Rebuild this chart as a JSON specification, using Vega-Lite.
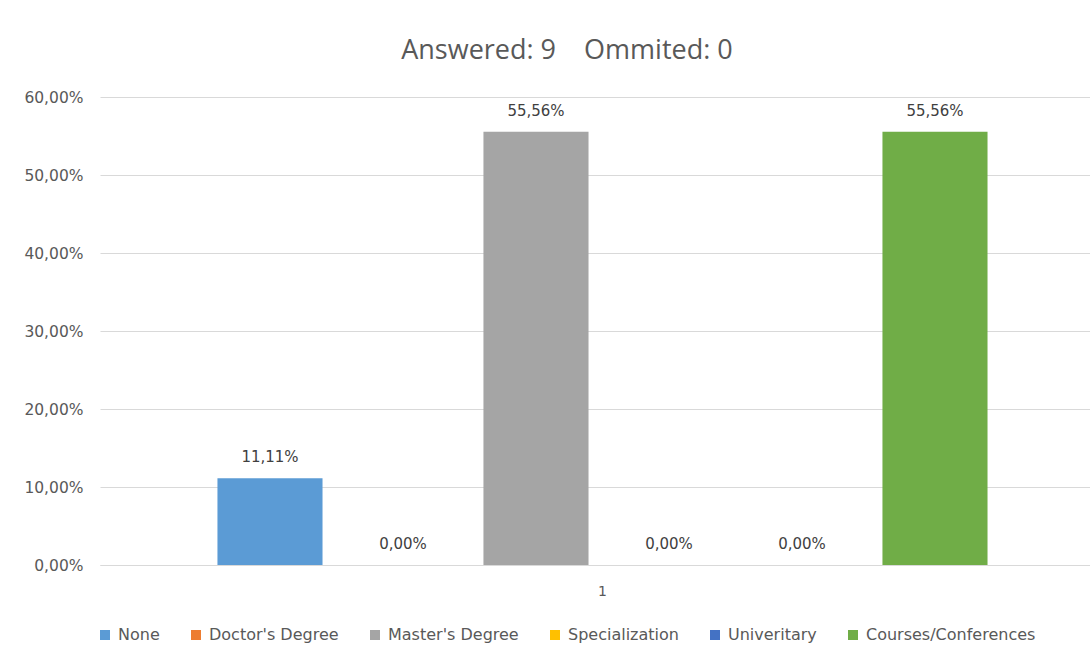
{
  "$schema": "https://vega.github.io/schema/vega-lite/v6.json",
  "autosize": {"type": "none"},
  "width": 990,
  "height": 468,
  "padding": {"left": 100, "top": 97, "right": 0, "bottom": 85},
  "background": "white",
  "config": {
    "locale": {"number": {"decimal": ",", "thousands": ".", "grouping": [3], "currency": ["", " €"]}},
    "view": {"stroke": null},
    "font": "DejaVu Sans"
  },
  "title": {
    "text": "Answered: 9\u00a0\u00a0\u00a0 Ommited: 0",
    "fontSize": 27,
    "fontWeight": "normal",
    "color": "#595959",
    "font": "Open Sans",
    "anchor": "middle",
    "dx": -28,
    "offset": 25
  },
  "data": {
    "values": [
      {"cat": "1", "series": "None", "value": 0.1111},
      {"cat": "1", "series": "Doctor's Degree", "value": 0},
      {"cat": "1", "series": "Master's Degree", "value": 0.5556},
      {"cat": "1", "series": "Specialization", "value": 0},
      {"cat": "1", "series": "Univeritary", "value": 0},
      {"cat": "1", "series": "Courses/Conferences", "value": 0.5556}
    ]
  },
  "encoding": {
    "x": {
      "field": "cat",
      "type": "nominal",
      "scale": {"paddingInner": 0, "paddingOuter": 0.1203, "align": 0.539},
      "axis": {
        "title": null,
        "labelAngle": 0,
        "ticks": false,
        "domainColor": "#d9d9d9",
        "labelColor": "#595959",
        "labelFontSize": 14,
        "labelPadding": 19
      }
    },
    "xOffset": {
      "field": "series",
      "type": "nominal",
      "sort": ["None", "Doctor's Degree", "Master's Degree", "Specialization", "Univeritary", "Courses/Conferences"],
      "scale": {"paddingInner": 0.21, "paddingOuter": 0.105}
    },
    "y": {
      "field": "value",
      "type": "quantitative",
      "scale": {"domain": [0, 0.6], "nice": false},
      "axis": {
        "title": null,
        "format": ".2%",
        "values": [0, 0.1, 0.2, 0.3, 0.4, 0.5, 0.6],
        "domain": false,
        "ticks": false,
        "gridColor": "#d9d9d9",
        "labelColor": "#595959",
        "labelFontSize": 15.5,
        "labelPadding": 17
      }
    }
  },
  "layer": [
    {
      "mark": {"type": "bar"},
      "encoding": {
        "color": {
          "field": "series",
          "type": "nominal",
          "sort": ["None", "Doctor's Degree", "Master's Degree", "Specialization", "Univeritary", "Courses/Conferences"],
          "scale": {
            "domain": ["None", "Doctor's Degree", "Master's Degree", "Specialization", "Univeritary", "Courses/Conferences"],
            "range": ["#5b9bd5", "#ed7d31", "#a5a5a5", "#ffc000", "#4472c4", "#70ad47"]
          },
          "legend": {
            "title": null,
            "orient": "none",
            "direction": "horizontal",
            "columns": 6,
            "legendX": -3,
            "legendY": 530,
            "symbolType": "square",
            "symbolSize": 100,
            "symbolStrokeWidth": 0,
            "labelFontSize": 16,
            "labelLimit": 400,
            "labelColor": "#595959",
            "labelOffset": 5,
            "columnPadding": 28
          }
        }
      }
    },
    {
      "mark": {"type": "text", "baseline": "bottom", "dy": -13, "fontSize": 15, "color": "#404040"},
      "encoding": {
        "text": {"field": "value", "type": "quantitative", "format": ".2%"}
      }
    }
  ]
}
